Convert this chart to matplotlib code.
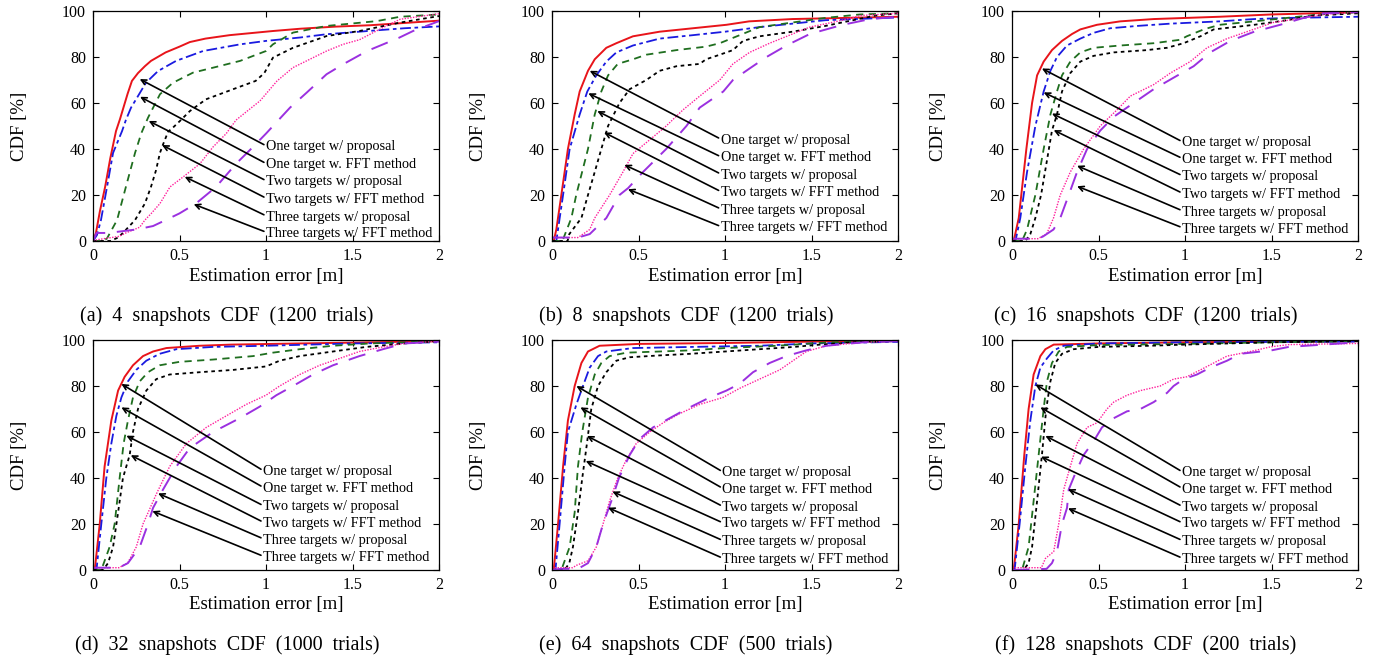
import matplotlib
matplotlib.use("Agg")
import matplotlib.pyplot as plt

plt.rcParams["font.family"] = ["Liberation Serif", "DejaVu Serif"]

# =========================================================
# DATA
# =========================================================

labels = [
    "One target w/ proposal",
    "One target w. FFT method",
    "Two targets w/ proposal",
    "Two targets w/ FFT method",
    "Three targets w/ proposal",
    "Three targets w/ FFT method",
]

captions = [
    "(a) 4 snapshots CDF (1200 trials)",
    "(b) 8 snapshots CDF (1200 trials)",
    "(c) 16 snapshots CDF (1200 trials)",
    "(d) 32 snapshots CDF (1000 trials)",
    "(e) 64 snapshots CDF (500 trials)",
    "(f) 128 snapshots CDF (200 trials)",
]

x_ticks = [0, 0.5, 1, 1.5, 2]
y_ticks = [0, 20, 40, 60, 80, 100]

# ---- (a) 4 snapshots ----
a1_x = [0, 0.017, 0.04, 0.07, 0.1, 0.133, 0.156, 0.2, 0.225, 0.26, 0.3, 0.335, 0.42, 0.5, 0.56, 0.65, 0.79, 1.04, 1.2, 1.4, 1.6, 1.8, 2.0]
a1_y = [0, 3.5, 13, 23.5, 36, 47.8, 53, 64, 69.6, 73, 76, 78.3, 82, 84.5, 86.5, 88, 89.5, 91.3, 92.3, 93.2, 93.8, 94.8, 95.8]
a2_x = [0, 0.023, 0.046, 0.081, 0.116, 0.168, 0.19, 0.22, 0.26, 0.306, 0.376, 0.48, 0.636, 0.85, 1.0, 1.2, 1.35, 1.64, 1.8, 2.0]
a2_y = [0, 2.6, 9.1, 23.5, 38.3, 47.8, 52.6, 58, 63, 68.8, 73.9, 78.3, 82.6, 85.5, 87.0, 88.5, 89.9, 91.6, 92.5, 93.3]
a3_x = [0, 0.05, 0.08, 0.139, 0.19, 0.243, 0.28, 0.318, 0.387, 0.462, 0.578, 0.734, 0.85, 1.0, 1.04, 1.156, 1.35, 1.64, 1.775, 2.0]
a3_y = [0, 0, 1, 9.1, 23.5, 38.3, 47, 53.6, 63.8, 68.8, 73.2, 76.1, 78.3, 82.6, 85.5, 90.6, 93.5, 95.6, 97.5, 98.5]
a4_x = [0, 0.1, 0.145, 0.173, 0.243, 0.30, 0.335, 0.364, 0.387, 0.405, 0.434, 0.462, 0.5, 0.56, 0.653, 0.81, 0.94, 0.99, 1.04, 1.156, 1.35, 1.54, 1.77, 2.0]
a4_y = [0, 0, 1.5, 3.5, 9.1, 16.3, 23.5, 30.7, 38.3, 42, 47.5, 49.3, 52, 56.5, 61.6, 66, 69.6, 73, 79.7, 84, 89.1, 91.3, 94.9, 97.8]
a5_x = [0, 0.02, 0.15, 0.19, 0.27, 0.30, 0.337, 0.387, 0.445, 0.52, 0.618, 0.694, 0.77, 0.827, 0.9, 0.965, 1.064, 1.156, 1.35, 1.445, 1.54, 1.676, 1.775, 2.0]
a5_y = [0, 0.5, 2, 3.5, 6, 9.1, 12, 16.3, 23.5, 27.8, 33.6, 40.9, 46.7, 52.6, 57, 60.9, 69.6, 75.4, 82.6, 85.5, 87.5, 92.8, 96.4, 98.8]
a6_x = [0, 0.02, 0.08, 0.12, 0.25, 0.347, 0.42, 0.5, 0.595, 0.711, 0.827, 0.925, 1.0, 1.139, 1.235, 1.35, 1.445, 1.584, 1.77, 1.85, 2.0]
a6_y = [0, 3.5, 3.5, 3.8, 5, 6.5, 9.1, 12, 16.3, 23.5, 33.6, 40.9, 46.7, 58, 64.5, 72.5, 76.8, 82.6, 88.4, 91.3, 95.6]

# ---- (b) 8 snapshots ----
b1_x = [0, 0.01, 0.025, 0.054, 0.092, 0.131, 0.16, 0.208, 0.247, 0.314, 0.372, 0.468, 0.622, 0.815, 1.008, 1.14, 1.39, 1.7, 2.0]
b1_y = [0, 0, 5, 20, 40, 55, 65, 74, 79, 84, 86, 89, 91, 92.5, 94, 95.5, 96.5, 97, 97.5]
b2_x = [0, 0.025, 0.064, 0.102, 0.16, 0.204, 0.256, 0.314, 0.372, 0.468, 0.622, 0.815, 1.0, 1.2, 1.39, 1.58, 2.0]
b2_y = [0, 0, 20, 40, 55, 65, 72, 78, 82, 85, 88, 89.5, 91, 93, 94.5, 96, 97.2]
b3_x = [0, 0.06, 0.112, 0.14, 0.208, 0.247, 0.285, 0.324, 0.38, 0.468, 0.545, 0.72, 0.89, 0.97, 1.085, 1.2, 1.39, 1.58, 1.78, 2.0]
b3_y = [0, 0, 10, 20, 40, 55, 65, 72, 77, 79, 81, 83, 84.5, 86, 89.5, 93, 95, 97, 98.5, 99]
b4_x = [0, 0.09, 0.1, 0.17, 0.208, 0.247, 0.285, 0.324, 0.39, 0.449, 0.545, 0.622, 0.72, 0.854, 0.89, 0.97, 1.046, 1.104, 1.2, 1.39, 1.58, 1.74, 1.87, 2.0]
b4_y = [0, 0, 3, 10, 20, 30, 40, 50, 60, 66, 70, 74, 76, 77, 79, 81, 83, 87, 89, 91, 93.5, 96, 98, 99]
b5_x = [0, 0.15, 0.218, 0.247, 0.333, 0.41, 0.468, 0.565, 0.66, 0.757, 0.854, 0.97, 1.046, 1.142, 1.258, 1.39, 1.49, 1.68, 1.78, 2.0]
b5_y = [1.5, 1.5, 5, 10, 20, 30, 38, 44, 50, 57, 63, 70, 77, 82, 86, 90, 93, 96, 98, 99]
b6_x = [0, 0.15, 0.218, 0.314, 0.39, 0.44, 0.526, 0.66, 0.777, 0.854, 0.99, 1.046, 1.142, 1.24, 1.355, 1.49, 1.68, 1.84, 2.0]
b6_y = [1.5, 1.5, 3, 10, 20, 23, 30, 40, 50, 58, 65, 70, 75, 80, 85, 90, 94, 96.5, 97.5]

# ---- (c) 16 snapshots ----
c1_x = [0, 0.01, 0.039, 0.083, 0.116, 0.145, 0.183, 0.231, 0.289, 0.347, 0.395, 0.491, 0.626, 0.82, 1.2, 1.5, 2.0]
c1_y = [0, 0, 10, 40, 60, 72, 78, 83, 87, 90, 92, 94, 95.5, 96.5, 97.5, 98.5, 99.5]
c2_x = [0, 0.02, 0.048, 0.087, 0.135, 0.183, 0.222, 0.26, 0.318, 0.395, 0.472, 0.568, 0.722, 0.915, 1.2, 1.4, 1.6, 2.0]
c2_y = [0, 0, 10, 30, 50, 65, 74, 80, 85, 88, 90.5, 92.5, 93.5, 94.5, 95.5, 96.5, 97, 97.5]
c3_x = [0, 0.058, 0.087, 0.135, 0.183, 0.222, 0.26, 0.289, 0.337, 0.395, 0.472, 0.626, 0.82, 0.973, 1.01, 1.108, 1.2, 1.4, 1.59, 1.78, 2.0]
c3_y = [0, 0, 5, 20, 40, 55, 65, 72, 78, 82, 84, 85, 86, 87.5, 89, 92, 94, 95.5, 97, 98.5, 99.5]
c4_x = [0, 0.077, 0.106, 0.135, 0.168, 0.202, 0.231, 0.26, 0.289, 0.337, 0.395, 0.472, 0.588, 0.78, 0.896, 0.992, 1.089, 1.166, 1.4, 1.59, 1.74, 2.0]
c4_y = [0, 0, 3, 10, 20, 35, 48, 55, 65, 73, 78, 80.5, 82, 83, 84, 86, 89, 92, 94, 96, 98, 99]
c5_x = [0, 0.15, 0.2, 0.24, 0.279, 0.337, 0.414, 0.51, 0.607, 0.684, 0.819, 0.915, 1.03, 1.127, 1.243, 1.358, 1.51, 1.686, 1.8, 2.0]
c5_y = [1, 1, 3, 10, 20, 30, 40, 50, 57, 63, 68, 73, 78, 84, 88, 91, 95, 97, 98.5, 99.5]
c6_x = [0, 0.15, 0.18, 0.24, 0.279, 0.328, 0.376, 0.434, 0.51, 0.588, 0.703, 0.819, 0.934, 1.05, 1.146, 1.262, 1.4, 1.55, 1.686, 1.8, 2.0]
c6_y = [1, 1, 2, 5, 10, 20, 30, 40, 48, 54, 60, 66, 71, 76, 82, 87, 91, 94, 97, 99, 99.5]

# ---- (d) 32 snapshots ----
d1_x = [0, 0.01, 0.039, 0.067, 0.106, 0.145, 0.183, 0.231, 0.289, 0.347, 0.424, 0.617, 0.8, 1.2, 2.0]
d1_y = [0, 0, 20, 45, 65, 78, 84, 89, 93, 95, 96.5, 97.5, 98, 98.5, 99.5]
d2_x = [0, 0.02, 0.048, 0.077, 0.106, 0.135, 0.164, 0.202, 0.25, 0.308, 0.385, 0.482, 0.694, 1.0, 1.5, 2.0]
d2_y = [0, 0, 20, 40, 55, 67, 75, 82, 87, 91, 94, 96, 97, 97.5, 98.5, 99]
d3_x = [0, 0.048, 0.096, 0.125, 0.154, 0.177, 0.202, 0.231, 0.27, 0.318, 0.385, 0.5, 0.694, 0.925, 1.04, 1.195, 1.387, 1.6, 2.0]
d3_y = [0, 0, 10, 20, 40, 55, 65, 75, 82, 86, 89, 90.5, 91.5, 93, 94.5, 96, 97.5, 98.5, 99.5]
d4_x = [0, 0.058, 0.087, 0.116, 0.145, 0.173, 0.212, 0.231, 0.26, 0.308, 0.366, 0.443, 0.617, 0.81, 1.0, 1.079, 1.195, 1.387, 1.58, 1.8, 2.0]
d4_y = [0, 0, 3, 10, 25, 40, 50, 60, 70, 78, 83, 85, 86, 87, 88.5, 91, 93, 95, 97, 98.5, 99.5]
d5_x = [0, 0.15, 0.2, 0.25, 0.289, 0.366, 0.443, 0.54, 0.655, 0.77, 0.886, 1.0, 1.079, 1.195, 1.31, 1.426, 1.54, 1.676, 1.8, 2.0]
d5_y = [1, 1, 3, 10, 20, 33, 45, 55, 62, 67, 72, 76, 80, 85, 89, 92, 95, 97, 98.5, 99.5]
d6_x = [0, 0.15, 0.202, 0.27, 0.318, 0.347, 0.405, 0.482, 0.559, 0.694, 0.848, 0.963, 1.06, 1.156, 1.272, 1.387, 1.54, 1.676, 1.8, 2.0]
d6_y = [1, 1, 3, 10, 20, 27, 35, 45, 53, 60, 66, 71, 76, 80, 85, 89, 93, 96, 98.5, 99.3]

# ---- (e) 64 snapshots ----
e1_x = [0, 0.01, 0.035, 0.064, 0.092, 0.131, 0.17, 0.208, 0.275, 0.5, 1.0, 1.5, 2.0]
e1_y = [0, 0, 20, 45, 65, 80, 90, 95, 97.5, 98.3, 98.7, 99.3, 99.6]
e2_x = [0, 0.02, 0.044, 0.073, 0.092, 0.141, 0.179, 0.218, 0.266, 0.314, 0.468, 0.815, 1.2, 1.5, 2.0]
e2_y = [0, 0, 20, 45, 60, 72, 80, 88, 93, 95, 96.5, 97, 97.5, 98.5, 99.2]
e3_x = [0, 0.054, 0.102, 0.131, 0.15, 0.175, 0.208, 0.247, 0.285, 0.333, 0.43, 0.622, 0.8, 1.0, 1.3, 1.6, 2.0]
e3_y = [0, 0, 10, 25, 45, 60, 75, 85, 90, 93, 94.5, 95, 95.5, 96.5, 97.5, 99, 99.5]
e4_x = [0, 0.073, 0.1, 0.121, 0.15, 0.175, 0.202, 0.227, 0.266, 0.314, 0.372, 0.449, 0.622, 0.8, 1.0, 1.2, 1.4, 1.55, 1.8, 2.0]
e4_y = [0, 0, 3, 10, 25, 40, 55, 70, 80, 86, 91, 92.5, 93.3, 94, 95, 96, 97, 98, 99.3, 99.5]
e5_x = [0, 0.12, 0.14, 0.208, 0.256, 0.295, 0.333, 0.38, 0.43, 0.487, 0.565, 0.642, 0.738, 0.854, 0.988, 1.085, 1.2, 1.316, 1.393, 1.47, 1.586, 1.8, 2.0]
e5_y = [1, 1, 2, 4, 10, 20, 30, 40, 48, 55, 60, 64, 68, 72, 75, 79, 83, 87, 91, 95, 97.5, 99, 99.5]
e6_x = [0, 0.05, 0.15, 0.208, 0.256, 0.295, 0.343, 0.387, 0.449, 0.507, 0.584, 0.68, 0.777, 0.911, 1.008, 1.085, 1.162, 1.258, 1.354, 1.47, 1.586, 1.8, 2.0]
e6_y = [0, 0.5, 0.5, 3, 10, 20, 30, 40, 50, 57, 62, 66, 70, 75, 78, 81, 86, 90, 93, 95.5, 97.5, 99, 99.5]

# ---- (f) 128 snapshots ----
f1_x = [0, 0.01, 0.039, 0.071, 0.096, 0.125, 0.164, 0.193, 0.241, 0.5, 1.0, 2.0]
f1_y = [0, 0, 20, 50, 70, 85, 93, 96, 98, 98.5, 99, 99.5]
f2_x = [0, 0.015, 0.044, 0.077, 0.106, 0.135, 0.164, 0.202, 0.241, 0.299, 0.5, 1.0, 2.0]
f2_y = [0, 0, 20, 45, 65, 80, 88, 92, 95.5, 97.5, 98.5, 99, 99.3]
f3_x = [0, 0.058, 0.096, 0.125, 0.154, 0.183, 0.202, 0.231, 0.27, 0.318, 0.5, 1.0, 1.5, 2.0]
f3_y = [0, 0, 10, 30, 50, 70, 82, 90, 95, 97, 97.8, 98.3, 99, 99.5]
f4_x = [0, 0.067, 0.096, 0.116, 0.145, 0.173, 0.198, 0.222, 0.25, 0.289, 0.356, 0.5, 0.8, 1.0, 1.5, 2.0]
f4_y = [0, 0, 3, 10, 30, 50, 70, 82, 90, 94, 96, 97, 97.5, 98, 99, 99.5]
f5_x = [0, 0.17, 0.193, 0.241, 0.27, 0.299, 0.337, 0.376, 0.434, 0.491, 0.549, 0.588, 0.665, 0.742, 0.857, 0.934, 1.01, 1.089, 1.166, 1.243, 1.378, 1.493, 1.6, 2.0]
f5_y = [1, 1, 5, 8, 20, 35, 45, 55, 62, 64, 70, 73, 76, 78, 80, 83, 84, 87, 90, 93, 95, 97, 98, 98.5]
f6_x = [0, 0.2, 0.231, 0.26, 0.289, 0.318, 0.328, 0.366, 0.414, 0.472, 0.52, 0.588, 0.665, 0.742, 0.819, 0.896, 0.934, 0.992, 1.069, 1.146, 1.243, 1.32, 1.5, 1.6, 1.8, 2.0]
f6_y = [0, 0.5, 3, 8, 20, 27, 35, 42, 50, 56, 62, 66, 69, 70, 73, 77, 80, 83, 85, 88, 91, 94, 95.5, 97, 98, 99]

panels = [
    [(a1_x, a1_y), (a2_x, a2_y), (a3_x, a3_y), (a4_x, a4_y), (a5_x, a5_y), (a6_x, a6_y)],
    [(b1_x, b1_y), (b2_x, b2_y), (b3_x, b3_y), (b4_x, b4_y), (b5_x, b5_y), (b6_x, b6_y)],
    [(c1_x, c1_y), (c2_x, c2_y), (c3_x, c3_y), (c4_x, c4_y), (c5_x, c5_y), (c6_x, c6_y)],
    [(d1_x, d1_y), (d2_x, d2_y), (d3_x, d3_y), (d4_x, d4_y), (d5_x, d5_y), (d6_x, d6_y)],
    [(e1_x, e1_y), (e2_x, e2_y), (e3_x, e3_y), (e4_x, e4_y), (e5_x, e5_y), (e6_x, e6_y)],
    [(f1_x, f1_y), (f2_x, f2_y), (f3_x, f3_y), (f4_x, f4_y), (f5_x, f5_y), (f6_x, f6_y)],
]

# =========================================================
# LAYOUT / STYLE
# =========================================================

styles = [
    dict(color="#e8141a", lw=1.4, ls="-"),
    dict(color="#1a1ae0", lw=1.3, ls=(0, (6, 2, 2, 2))),
    dict(color="#1f6e1f", lw=1.3, ls=(0, (4, 3))),
    dict(color="black", lw=1.3, ls=(0, (2, 2))),
    dict(color="#ff1f9c", lw=1.0, ls=(0, (1, 1))),
    dict(color="#9b30e0", lw=1.4, ls=(0, (9, 6))),
]

# label text anchor (x, list of y) and arrow heads per panel, in data coords
text_x = [1.0, 0.975, 0.983, 0.983, 0.985, 0.983]
text_y = [
    [40.9, 33.2, 25.7, 18.1, 10.4, 3.2],
    [43.8, 36.1, 28.6, 21.0, 13.4, 5.7],
    [42.7, 35.4, 27.9, 20.3, 12.6, 5.2],
    [42.8, 35.5, 27.5, 20.3, 13.0, 5.4],
    [42.3, 35.1, 27.2, 20.0, 12.3, 4.6],
    [42.3, 35.1, 27.2, 20.0, 12.3, 4.6],
]
arrow_heads = [
    [(0.270, 70.4), (0.272, 62.7), (0.322, 52.2), (0.399, 41.7), (0.530, 27.9), (0.582, 16.0)],
    [(0.218, 74.0), (0.210, 64.2), (0.262, 56.5), (0.301, 47.2), (0.418, 33.1), (0.439, 22.5)],
    [(0.173, 75.0), (0.183, 64.6), (0.231, 55.4), (0.241, 48.2), (0.376, 32.7), (0.376, 23.8)],
    [(0.164, 80.9), (0.164, 70.7), (0.193, 58.4), (0.218, 49.9), (0.376, 33.3), (0.343, 25.6)],
    [(0.141, 80.0), (0.164, 70.7), (0.202, 58.3), (0.195, 47.4), (0.349, 34.1), (0.324, 27.1)],
    [(0.135, 80.7), (0.164, 70.7), (0.193, 58.3), (0.168, 49.3), (0.324, 35.1), (0.324, 26.8)],
]

W, H = 1382, 662
lefts = [93, 552, 1012]
tops = [11, 340]
ax_w, ax_h = 346, 230

fig = plt.figure(figsize=(W / 100, H / 100), dpi=100)

for i, curves in enumerate(panels):
    row, col = divmod(i, 3)
    l = lefts[col]
    t = tops[row]
    ax = fig.add_axes([l / W, (H - t - ax_h) / H, ax_w / W, ax_h / H])

    for (xs, ys), st in zip(curves, styles):
        ax.plot(xs, ys, **st)

    for j, lab in enumerate(labels):
        tx = text_x[i]
        ty = text_y[i][j]
        ax.text(tx, ty, lab, fontsize=10.3, ha="left", va="center")
        ax.annotate("", xy=arrow_heads[i][j], xytext=(tx - 0.012, ty + 1.0),
                    arrowprops=dict(arrowstyle="->", lw=1.2, color="black",
                                    shrinkA=0, shrinkB=0, mutation_scale=9))

    ax.set_xlim(0, 2)
    ax.set_ylim(0, 100)
    ax.set_xticks(x_ticks)
    ax.set_xticklabels(["0", "0.5", "1", "1.5", "2"])
    ax.set_yticks(y_ticks)
    ax.tick_params(direction="in", top=True, right=True, length=4, width=0.8,
                   labelsize=11.5, pad=5)
    for sp in ax.spines.values():
        sp.set_linewidth(0.9)

    ax.set_xlabel("Estimation error [m]", fontsize=13.5, va="center")
    ax.xaxis.set_label_coords(0.5, -35 / ax_h)
    ax.set_ylabel("CDF [%]", fontsize=13.5, va="center")
    ax.yaxis.set_label_coords(-73 / ax_w, 0.5)

    # captions are typeset with wide (justified) word spacing
    cap_y = 316 if row == 0 else 645
    fig.text((l + ax_w / 2 - 39) / W, (H - cap_y) / H, captions[i].replace(" ", "  "),
             fontsize=14.5, ha="center", va="center")

fig.savefig("out.png", dpi=100)
